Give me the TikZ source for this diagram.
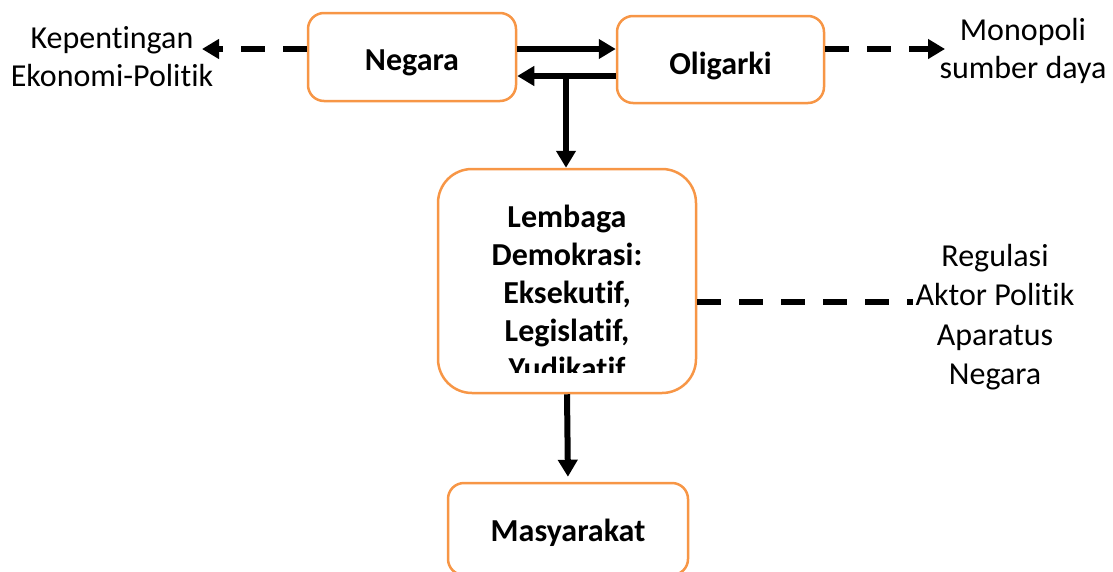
\documentclass[tikz,border=0pt]{standalone}
\usepackage{fontspec}
\setmainfont{Carlito}[Ligatures={NoCommon}]
\usetikzlibrary{arrows.meta}
\definecolor{boxorange}{HTML}{F79646}
\begin{document}
\begin{tikzpicture}[x=1pt,y=-1pt,
  box/.style={draw=boxorange, line width=2.5pt, rounded corners=16pt, fill=white,
    font=\fontsize{32}{38}\selectfont\bfseries, align=center, inner sep=0pt},
  btext/.style={font=\fontsize{32}{38}\selectfont\bfseries, align=center, inner sep=0pt},
  lbl/.style={font=\fontsize{32}{38}\selectfont, align=center, inner sep=0pt},
  tip/.style={-{Triangle[length=17pt,width=19pt]}},
  conn/.style={line width=6pt},
  dsh/.style={line width=6pt, dash pattern=on 24pt off 18pt},
]
\useasboundingbox (0,0) rectangle (1113,571);

% boxes
\node[box, minimum width=208pt, minimum height=88pt, text height=27pt, text depth=0pt] (neg) at (412,57) {Negara};
\node[box, minimum width=207pt, minimum height=87pt, text height=29pt, text depth=0pt] (oli) at (720.5,59.5) {Oligarki};
\node[box, minimum width=258pt, minimum height=224pt, rounded corners=34pt] (lem) at (567,281) {};
\begin{scope}
  \clip (430,160) rectangle (700,372);
  \node[btext] (lemtxt) at (567,292) {Lembaga\\Demokrasi:\\Eksekutif,\\Legislatif,\\Yudikatif};
\end{scope}
\node[box, minimum width=240pt, minimum height=92pt, text height=25.5pt, text depth=0pt] (mas) at (568,529) {Masyarakat};

% labels
\node[lbl] (kep) at (112,57) {Kepentingan\\Ekonomi-Politik};
\node[lbl] (mon) at (1023,51) {Monopoli\\sumber daya};
\node[lbl, font=\fontsize{32}{39.5}\selectfont] (reg) at (995,317) {Regulasi\\Aktor Politik\\Aparatus\\Negara};

% coordinates
\coordinate (r1) at (0,49);
\coordinate (r2) at (0,76);
\coordinate (jn) at (566,76);
\coordinate (kpt) at (202,49);
\coordinate (mpt) at (945,49);
\coordinate (rpt) at (913,302);

% connectors
\draw[conn, tip] (neg.east|-r1) -- (oli.west|-r1);
\draw[conn, tip] (oli.west|-r2) -- (neg.east|-r2);
\draw[conn, tip] (jn) -- (jn|-lem.north);
\draw[conn, tip, shorten >=5pt] (lem.south) -- (mas.north);
\draw[dsh, tip] (neg.west|-r1) -- (kpt);
\draw[dsh, tip] (oli.east|-r1) -- (mpt);
\draw[dsh] (lem.east|-rpt) -- (rpt);
\end{tikzpicture}
\end{document}
